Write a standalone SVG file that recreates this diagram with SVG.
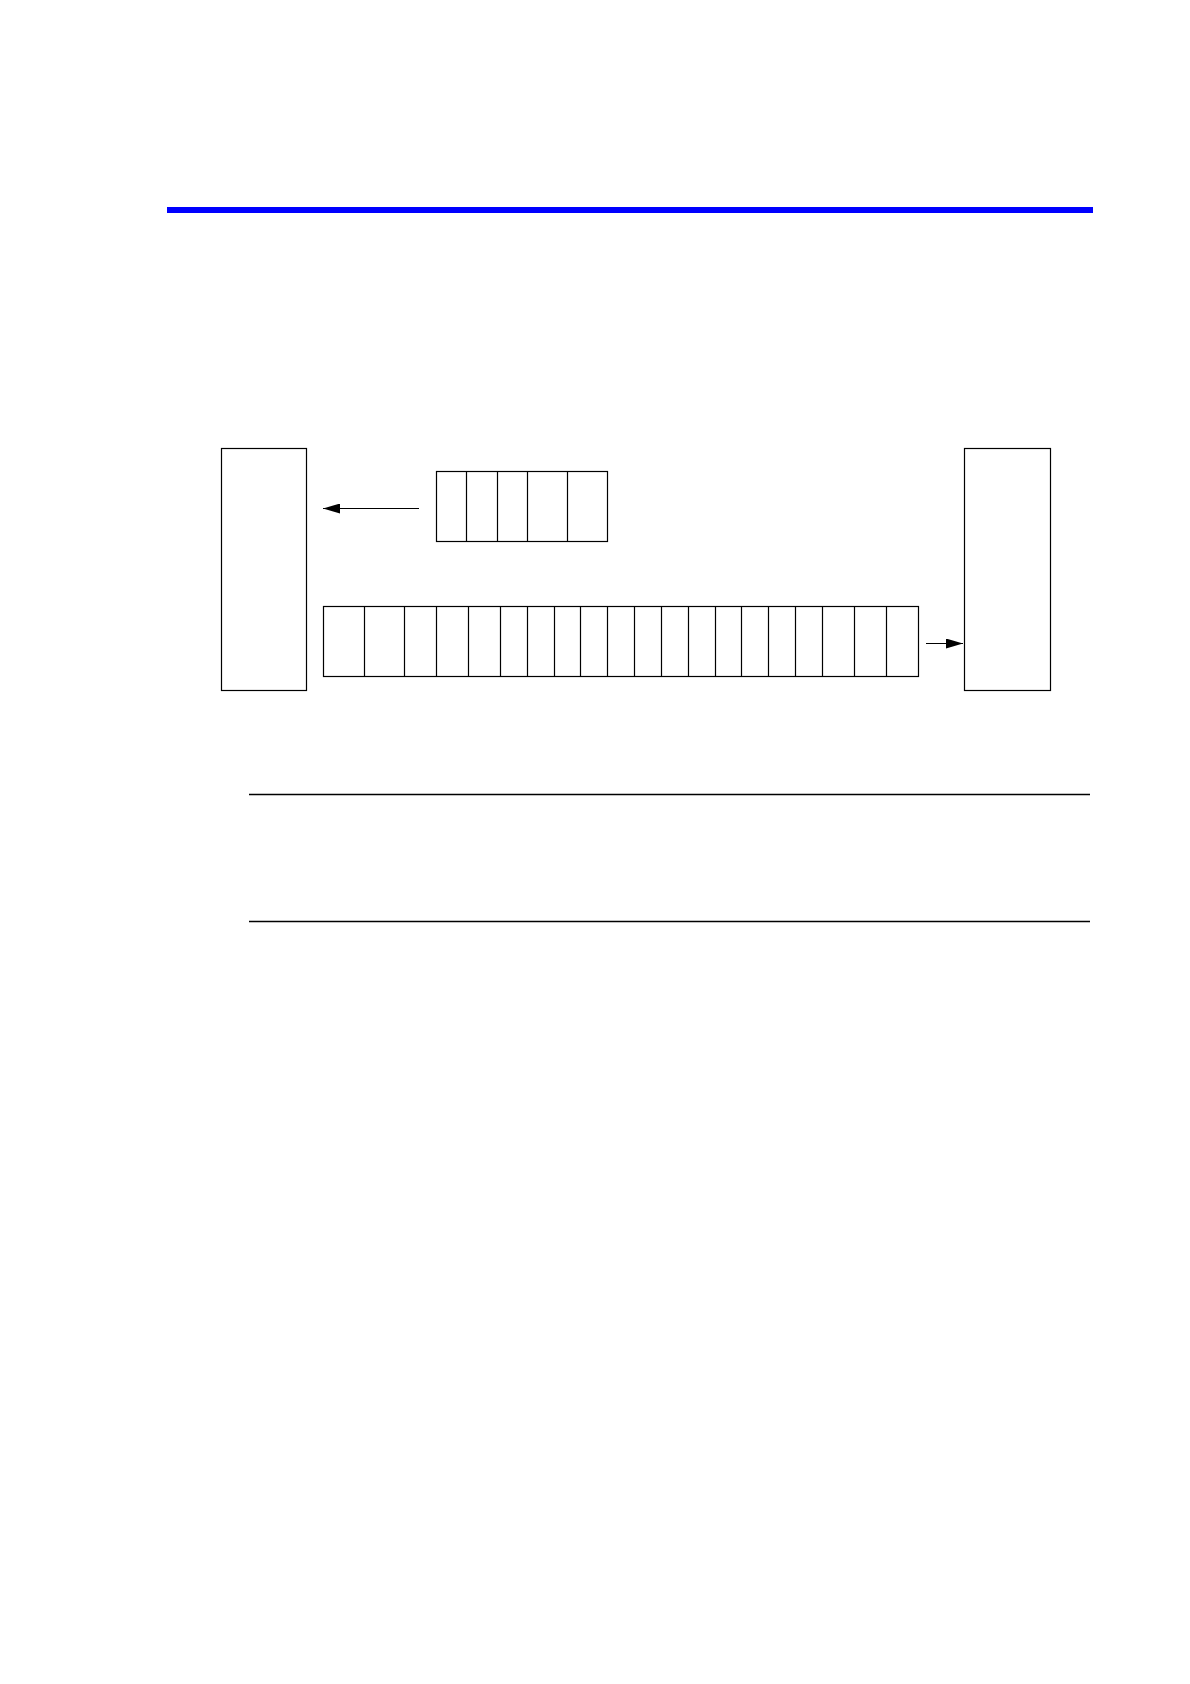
<svg xmlns="http://www.w3.org/2000/svg" width="1190" height="1684" viewBox="0 0 1190 1684">
<style>
.box{fill:#fff;stroke:#000;stroke-width:1.2}
.div{stroke:#000;stroke-width:1.2}
.rule{stroke:#000;stroke-width:1.3}
.conn{stroke:#000;stroke-width:1.2;fill:none}
</style>
<defs>
<marker id="ah" markerWidth="17" markerHeight="10" refX="17" refY="5" orient="auto" markerUnits="userSpaceOnUse">
<path d="M0,0 L17,5 L0,10 Z" fill="#000"/>
</marker>
</defs>
<rect x="0" y="0" width="1190" height="1684" fill="#fff"/>
<rect id="header-bar" x="167" y="207" width="926" height="6" fill="#0000ff"/>
<g id="left-block"><rect class="box" x="221.5" y="448.5" width="85" height="242"/></g>
<g id="right-block"><rect class="box" x="964.5" y="448.5" width="86" height="242"/></g>
<g id="small-register">
<rect class="box" x="436.5" y="471.5" width="171" height="70"/>
<path class="div" d="M466.5,471.5V541.5M497.5,471.5V541.5M527.5,471.5V541.5M567.5,471.5V541.5"/>
</g>
<g id="long-register">
<rect class="box" x="323.5" y="606.5" width="595" height="70"/>
<path class="div" d="M364.5,606.5V676.5M404.5,606.5V676.5M436.5,606.5V676.5M468.5,606.5V676.5M500.5,606.5V676.5M527.5,606.5V676.5M554.5,606.5V676.5M580.5,606.5V676.5M607.5,606.5V676.5M634.5,606.5V676.5M661.5,606.5V676.5M688.5,606.5V676.5M715.5,606.5V676.5M741.5,606.5V676.5M768.5,606.5V676.5M795.5,606.5V676.5M822.5,606.5V676.5M854.5,606.5V676.5M886.5,606.5V676.5"/>
</g>
<g id="connectors">
<line class="conn" x1="419" y1="508.5" x2="323" y2="508.5" marker-end="url(#ah)"/>
<line class="conn" x1="926" y1="643.5" x2="963" y2="643.5" marker-end="url(#ah)"/>
</g>
<line class="rule" x1="249" y1="794.5" x2="1090" y2="794.5"/>
<line class="rule" x1="249" y1="921.5" x2="1090" y2="921.5"/>
</svg>
